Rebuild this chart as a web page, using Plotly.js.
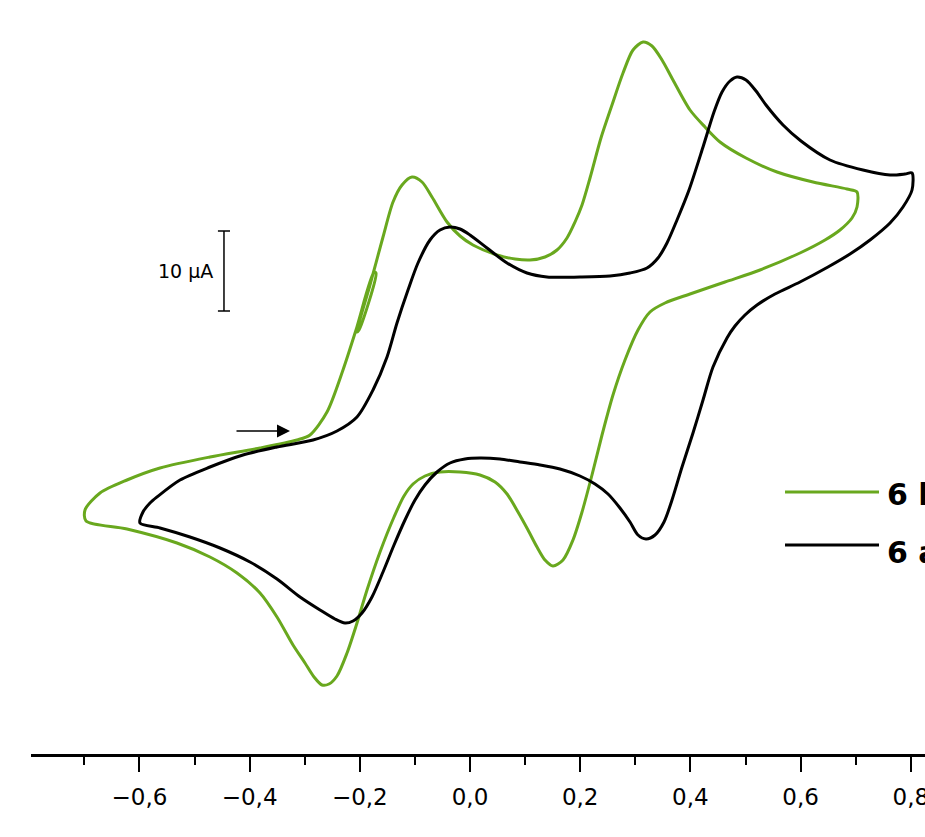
<!DOCTYPE html>
<html>
<head>
<meta charset="utf-8">
<script src="https://cdn.plot.ly/plotly-3.0.1.min.js"></script>
<style>
  html, body { margin: 0; padding: 0; overflow: hidden; background: #fff; }
  #chart { width: 1000px; height: 837px; }
</style>
</head>
<body>
<div id="chart"></div>
<script>
// Potential (V) and current (µA)
const greenV = [-0.6987,-0.6715,-0.6225,-0.5626,-0.4719,-0.3811,-0.3140,-0.2904,-0.2595,-0.2305,-0.2069,
  -0.1742,-0.1706,-0.2015,-0.2051,-0.1815,-0.1579,-0.1397,-0.1234,-0.1053,-0.0871,-0.0690,-0.0417,-0.0181,
  0.0054,0.0490,0.0817,0.1089,0.1361,0.1579,0.1760,0.1906,0.2033,0.2178,0.2377,0.2577,0.2777,0.2958,0.3140,
  0.3303,0.3485,0.3684,0.3993,0.4265,0.4537,0.5009,0.5572,0.6225,0.6842,0.7024,0.7024,0.6933,0.6715,0.6443,
  0.5989,0.5263,0.4628,0.3993,0.3539,0.3267,0.3049,0.2813,0.2595,0.2396,0.2214,0.2033,0.1869,0.1688,0.1506,
  0.1361,0.1216,0.1053,0.0871,0.0672,0.0454,0.0181,-0.0181,-0.0544,-0.0817,-0.1034,-0.1198,-0.1379,-0.1633,
  -0.1869,-0.2051,-0.2232,-0.2414,-0.2559,-0.2686,-0.2831,-0.2995,-0.3212,-0.3503,-0.3811,-0.4229,-0.4719,
  -0.5318,-0.6225,-0.6969,-0.6987];
const greenI = [-10.0,-7.875,-6.25,-4.75,-3.375,-2.25,-1.25,-0.625,2.25,7.5,12.5,
  19.75,19.625,12.5,12.25,18.125,24.125,28.5,30.625,31.625,31.0,29.125,26.0,24.25,
  23.125,21.875,21.375,21.25,21.625,22.5,24.0,26.0,28.125,31.5,36.5,40.625,44.625,47.5,48.5,
  48.0,46.25,43.75,40.0,37.875,36.0,34.0,32.25,31.0,30.125,29.75,27.875,26.5,25.0,23.75,
  22.125,20.0,18.5,17.0,15.875,14.75,12.5,8.75,4.375,-0.625,-5.625,-10.25,-13.75,-16.25,-17.0,
  -16.25,-14.625,-12.5,-10.25,-8.0,-6.5,-5.625,-5.25,-5.25,-5.75,-6.75,-8.25,-10.875,-15.25,
  -20.0,-24.125,-27.875,-30.75,-31.75,-31.875,-30.875,-29.125,-26.875,-23.375,-20.375,-17.875,-15.875,
  -14.125,-12.375,-11.375,-10.0];

const blackV = [-0.5989,-0.5935,-0.5808,-0.5681,-0.5263,-0.4719,-0.4120,-0.3503,-0.2849,-0.2414,-0.2051,
  -0.1760,-0.1506,-0.1325,-0.1125,-0.0944,-0.0726,-0.0544,-0.0363,-0.0181,0.0000,0.0309,0.0672,0.1034,
  0.1397,0.1996,0.2541,0.2904,0.3212,0.3412,0.3575,0.3757,0.3975,0.4229,0.4428,0.4574,0.4719,0.4846,
  0.5009,0.5191,0.5372,0.5681,0.6007,0.6534,0.7132,0.7623,0.7895,0.8022,0.8022,0.7858,0.7623,0.7260,
  0.6897,0.6497,0.5989,0.5535,0.5209,0.4991,0.4809,0.4664,0.4410,0.4229,0.4047,0.3848,0.3666,0.3521,
  0.3358,0.3194,0.3049,0.2904,0.2722,0.2505,0.2269,0.1996,0.1633,0.1270,0.0907,0.0544,0.0181,-0.0091,
  -0.0363,-0.0599,-0.0817,-0.0998,-0.1180,-0.1379,-0.1579,-0.1779,-0.1960,-0.2123,-0.2269,-0.2450,
  -0.2722,-0.3085,-0.3503,-0.3993,-0.4537,-0.5082,-0.5626,-0.5989];
const blackI = [-11.625,-10.25,-9.125,-8.375,-6.25,-4.625,-3.125,-2.125,-1.25,-0.125,1.625,
  5.0,9.125,13.375,17.5,20.875,23.75,25.0,25.375,25.125,24.375,22.75,20.875,19.625,
  19.125,19.125,19.25,19.625,20.25,21.5,23.375,26.25,30.0,35.375,39.75,42.25,43.625,44.125,
  43.75,42.375,40.625,38.125,36.125,33.75,32.5,31.875,32.0,32.125,30.0,27.875,25.875,23.75,
  22.0,20.375,18.5,17.0,15.625,14.375,13.0,11.5,7.875,3.75,-0.375,-4.625,-8.75,-11.5,
  -13.125,-13.625,-13.125,-11.5,-9.75,-8.0,-6.75,-5.75,-4.875,-4.375,-4.0,-3.625,-3.5,-3.625,
  -4.125,-5.25,-6.875,-8.75,-11.25,-14.375,-17.75,-20.875,-22.875,-23.875,-24.125,-23.625,
  -22.5,-20.875,-18.625,-16.5,-14.75,-13.375,-12.25,-11.625];

const seriesNames = ['6 b', '6 a'];
const seriesColors = ['#69A81E', '#000000'];
const tickVals = [-0.6, -0.4, -0.2, 0.0, 0.2, 0.4, 0.6, 0.8];
const scaleBarLabel = '10 µA';
const scaleBarValue = 10;

const font = 'DejaVu Sans, Verdana, sans-serif';

const traces = [
  {x: greenV, y: greenI, name: seriesNames[0], mode: 'lines',
   line: {color: seriesColors[0], width: 3, shape: 'spline', smoothing: 0.8}},
  {x: blackV, y: blackI, name: seriesNames[1], mode: 'lines',
   line: {color: seriesColors[1], width: 3, shape: 'spline', smoothing: 0.8}}
];

// scale bar geometry (data units)
const sbX = -0.4465, sbY0 = 14.875, sbCap = 0.011;

const layout = {
  width: 1000, height: 837,
  margin: {l: 31, r: 20, t: 0, b: 83},
  paper_bgcolor: '#fff', plot_bgcolor: '#fff',
  showlegend: false,
  separators: ',.',
  xaxis: {
    range: [-0.79673, 0.92559],
    showgrid: false, zeroline: false,
    showline: true, linewidth: 3, linecolor: '#000',
    ticks: 'outside', ticklen: 15, tickwidth: 2, tickcolor: '#000',
    tickvals: tickVals, tickformat: '.1f',
    ticklabelstandoff: 5,
    tickfont: {family: font, size: 23, color: '#000'},
    minor: {dtick: 0.1, tick0: 0, ticks: 'outside', ticklen: 8, tickwidth: 2, tickcolor: '#000'}
  },
  yaxis: {range: [-40.5, 53.75], visible: false, showgrid: false, zeroline: false},
  shapes: [
    {type: 'line', xref: 'x', yref: 'y', x0: sbX, x1: sbX, y0: sbY0, y1: sbY0 + scaleBarValue,
     line: {color: '#000', width: 1.5}},
    {type: 'line', xref: 'x', yref: 'y', x0: sbX - sbCap, x1: sbX + sbCap, y0: sbY0, y1: sbY0,
     line: {color: '#000', width: 1.5}},
    {type: 'line', xref: 'x', yref: 'y', x0: sbX - sbCap, x1: sbX + sbCap, y0: sbY0 + scaleBarValue, y1: sbY0 + scaleBarValue,
     line: {color: '#000', width: 1.5}},
    {type: 'line', xref: 'x', yref: 'y', x0: 0.5717, x1: 0.7423, y0: -7.75, y1: -7.75,
     line: {color: seriesColors[0], width: 3}},
    {type: 'line', xref: 'x', yref: 'y', x0: 0.5717, x1: 0.7423, y0: -14.375, y1: -14.375,
     line: {color: seriesColors[1], width: 3}}
  ],
  annotations: [
    {xref: 'x', yref: 'y', x: sbX, y: sbY0 + scaleBarValue / 2, text: scaleBarLabel,
     showarrow: false, xanchor: 'right', yanchor: 'middle', xshift: -9,
     font: {family: font, size: 19, color: '#000'}},
    {xref: 'x', yref: 'y', x: -0.3267, y: -0.125, ax: -55, ay: 0, axref: 'pixel', ayref: 'pixel',
     text: '', showarrow: true, arrowhead: 2, arrowsize: 2, arrowwidth: 1.3, arrowcolor: '#000'},
    {xref: 'x', yref: 'y', x: 0.7586, y: -8.0, text: '<b>' + seriesNames[0] + '</b>',
     showarrow: false, xanchor: 'left', yanchor: 'middle', xshift: -3,
     font: {family: font, size: 30, color: '#000'}},
    {xref: 'x', yref: 'y', x: 0.7586, y: -15.25, text: '<b>' + seriesNames[1] + '</b>',
     showarrow: false, xanchor: 'left', yanchor: 'middle', xshift: -3,
     font: {family: font, size: 30, color: '#000'}}
  ]
};

Plotly.newPlot('chart', traces, layout, {staticPlot: true, displayModeBar: false});
</script>
</body>
</html>
